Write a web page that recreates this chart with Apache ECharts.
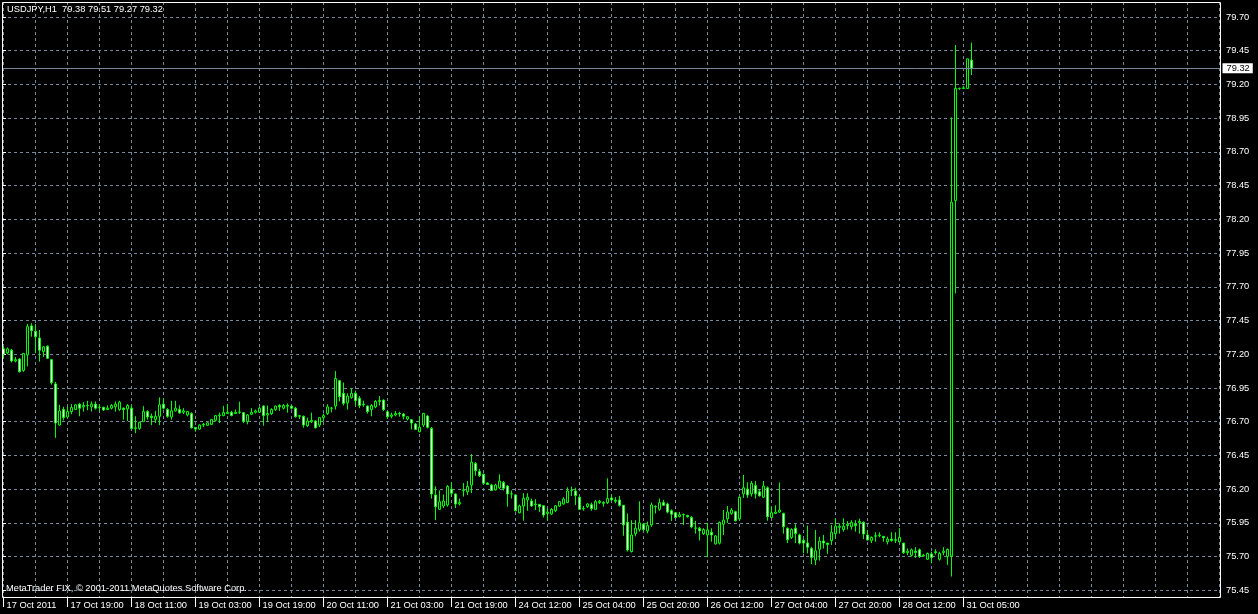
<!DOCTYPE html>
<html>
<head>
<meta charset="utf-8">
<title>USDJPY,H1</title>
<script src="https://cdn.jsdelivr.net/npm/echarts/dist/echarts.min.js"></script>
<style>
  html, body { margin: 0; padding: 0; background: #000; }
  #chart { width: 1258px; height: 614px; }
</style>
</head>
<body>
<div id="chart"></div>
<script>
const symbol = 'USDJPY,H1'
const copyright = 'MetaTrader FIX, \u00a9 2001-2011 MetaQuotes Software Corp.'

// hourly bars from 17 Oct 2011 03:00, [open, close, low, high]
const bars = [
  [77.24, 77.20, 77.17, 77.26], [77.21, 77.24, 77.20, 77.25], [77.23, 77.15, 77.14, 77.24], [77.15, 77.16, 77.14, 77.18],
  [77.165, 77.07, 77.065, 77.17], [77.08, 77.205, 77.07, 77.21], [77.195, 77.405, 77.11, 77.425], [77.41, 77.375, 77.33, 77.43],
  [77.37, 77.33, 77.21, 77.425], [77.32, 77.23, 77.145, 77.38], [77.22, 77.255, 77.18, 77.26], [77.26, 77.17, 77.165, 77.265],
  [77.16, 76.99, 76.975, 77.165], [76.98, 76.69, 76.58, 76.995], [76.675, 76.78, 76.67, 76.825], [76.79, 76.73, 76.71, 76.81],
  [76.735, 76.775, 76.73, 76.81], [76.775, 76.805, 76.755, 76.83], [76.79, 76.825, 76.79, 76.83], [76.83, 76.80, 76.74, 76.84],
  [76.81, 76.82, 76.775, 76.845], [76.82, 76.82, 76.785, 76.855], [76.81, 76.83, 76.775, 76.85], [76.83, 76.80, 76.79, 76.85],
  [76.805, 76.807, 76.775, 76.83], [76.807, 76.787, 76.78, 76.81], [76.79, 76.80, 76.79, 76.82], [76.80, 76.82, 76.79, 76.83],
  [76.81, 76.83, 76.775, 76.85], [76.79, 76.845, 76.78, 76.855], [76.80, 76.79, 76.715, 76.805], [76.795, 76.82, 76.705, 76.83],
  [76.80, 76.65, 76.64, 76.825], [76.65, 76.655, 76.615, 76.74], [76.65, 76.695, 76.64, 76.70], [76.70, 76.775, 76.70, 76.815],
  [76.775, 76.735, 76.715, 76.785], [76.74, 76.73, 76.675, 76.76], [76.715, 76.74, 76.69, 76.78], [76.74, 76.825, 76.675, 76.88],
  [76.83, 76.80, 76.79, 76.875], [76.79, 76.74, 76.73, 76.80], [76.735, 76.78, 76.715, 76.855], [76.78, 76.80, 76.775, 76.855],
  [76.79, 76.765, 76.76, 76.82], [76.77, 76.78, 76.757, 76.80], [76.75, 76.775, 76.74, 76.78], [76.76, 76.655, 76.65, 76.77],
  [76.657, 76.645, 76.626, 76.66], [76.645, 76.675, 76.64, 76.68], [76.675, 76.68, 76.66, 76.69], [76.673, 76.692, 76.67, 76.695],
  [76.68, 76.717, 76.68, 76.72], [76.71, 76.745, 76.70, 76.75], [76.745, 76.75, 76.69, 76.767], [76.745, 76.767, 76.74, 76.817],
  [76.76, 76.77, 76.76, 76.83], [76.77, 76.745, 76.74, 76.78], [76.76, 76.77, 76.757, 76.79], [76.77, 76.772, 76.757, 76.848],
  [76.767, 76.705, 76.69, 76.77], [76.70, 76.75, 76.68, 76.757], [76.755, 76.77, 76.75, 76.80], [76.77, 76.78, 76.76, 76.79],
  [76.77, 76.80, 76.765, 76.81], [76.816, 76.745, 76.67, 76.82], [76.75, 76.76, 76.70, 76.82], [76.76, 76.79, 76.75, 76.80],
  [76.79, 76.815, 76.78, 76.82], [76.82, 76.81, 76.78, 76.83], [76.80, 76.82, 76.79, 76.83], [76.82, 76.815, 76.767, 76.836],
  [76.815, 76.80, 76.79, 76.82], [76.80, 76.737, 76.73, 76.81], [76.74, 76.745, 76.72, 76.75], [76.74, 76.675, 76.655, 76.745],
  [76.67, 76.705, 76.66, 76.73], [76.70, 76.71, 76.69, 76.766], [76.705, 76.655, 76.65, 76.71], [76.675, 76.73, 76.66, 76.73],
  [76.73, 76.745, 76.70, 76.76], [76.76, 76.81, 76.75, 76.83], [76.80, 76.80, 76.77, 76.81], [76.816, 77.02, 76.79, 77.075],
  [77.004, 76.885, 76.85, 77.01], [76.91, 76.836, 76.82, 76.99], [76.84, 76.89, 76.79, 76.91], [76.88, 76.91, 76.87, 76.95],
  [76.91, 76.856, 76.82, 76.93], [76.873, 76.82, 76.80, 76.89], [76.83, 76.826, 76.81, 76.856], [76.816, 76.775, 76.76, 76.82],
  [76.79, 76.82, 76.74, 76.83], [76.81, 76.85, 76.80, 76.86], [76.85, 76.857, 76.82, 76.89], [76.86, 76.79, 76.78, 76.865],
  [76.774, 76.737, 76.72, 76.78], [76.74, 76.75, 76.725, 76.767], [76.75, 76.76, 76.74, 76.78], [76.76, 76.757, 76.737, 76.774],
  [76.757, 76.74, 76.717, 76.762], [76.72, 76.737, 76.71, 76.74], [76.715, 76.69, 76.643, 76.72], [76.683, 76.643, 76.64, 76.69],
  [76.626, 76.658, 76.62, 76.742], [76.675, 76.762, 76.66, 76.765], [76.742, 76.658, 76.65, 76.75], [76.65, 76.164, 76.13, 76.66],
  [76.157, 76.07, 75.97, 76.22], [76.05, 76.107, 76.05, 76.19], [76.075, 76.112, 76.06, 76.16], [76.083, 76.22, 76.07, 76.23],
  [76.20, 76.17, 76.145, 76.25], [76.164, 76.09, 76.06, 76.17], [76.09, 76.10, 76.08, 76.13], [76.19, 76.195, 76.145, 76.245],
  [76.18, 76.22, 76.157, 76.26], [76.23, 76.40, 76.17, 76.46], [76.39, 76.337, 76.30, 76.40], [76.33, 76.30, 76.29, 76.35],
  [76.31, 76.243, 76.235, 76.315], [76.245, 76.235, 76.23, 76.25], [76.23, 76.19, 76.185, 76.24], [76.195, 76.23, 76.19, 76.24],
  [76.21, 76.26, 76.20, 76.31], [76.25, 76.206, 76.19, 76.26], [76.223, 76.164, 76.07, 76.23], [76.164, 76.165, 76.13, 76.19],
  [76.157, 76.04, 76.035, 76.16], [76.025, 76.075, 76.02, 76.085], [76.075, 76.132, 75.966, 76.17], [76.12, 76.14, 76.04, 76.17],
  [76.112, 76.075, 76.07, 76.13], [76.085, 76.09, 76.045, 76.125], [76.087, 76.07, 76.03, 76.09], [76.077, 76.008, 75.99, 76.08],
  [76.02, 76.03, 75.966, 76.058], [76.016, 76.05, 76.01, 76.06], [76.04, 76.077, 76.03, 76.08], [76.075, 76.107, 76.07, 76.11],
  [76.09, 76.127, 76.085, 76.14], [76.10, 76.186, 76.10, 76.213], [76.19, 76.19, 76.15, 76.218], [76.186, 76.152, 76.083, 76.21],
  [76.14, 76.05, 76.045, 76.15], [76.055, 76.056, 76.04, 76.075], [76.07, 76.09, 76.06, 76.095], [76.085, 76.055, 76.04, 76.10],
  [76.05, 76.107, 76.05, 76.12], [76.10, 76.11, 76.09, 76.12], [76.10, 76.095, 76.07, 76.11], [76.10, 76.13, 76.09, 76.28],
  [76.135, 76.12, 76.11, 76.16], [76.117, 76.11, 76.095, 76.14], [76.12, 76.08, 76.07, 76.15], [76.08, 75.935, 75.855, 76.082],
  [75.954, 75.749, 75.737, 76.02], [75.737, 75.86, 75.73, 75.97], [75.87, 75.91, 75.85, 75.97], [75.90, 75.95, 75.885, 76.11],
  [75.94, 75.90, 75.89, 75.95], [75.89, 75.93, 75.872, 75.96], [75.935, 76.083, 75.92, 76.10], [76.07, 76.072, 76.02, 76.08],
  [76.05, 76.10, 76.04, 76.13], [76.10, 76.08, 76.075, 76.12], [76.09, 76.03, 76.02, 76.10], [76.04, 76.014, 75.964, 76.05],
  [76.025, 75.99, 75.985, 76.03], [75.996, 76.01, 75.99, 76.03], [76.01, 76.012, 75.935, 76.02], [76.005, 75.995, 75.99, 76.01],
  [75.99, 75.92, 75.91, 76.00], [75.91, 75.912, 75.87, 75.965], [75.91, 75.89, 75.82, 75.92], [75.87, 75.90, 75.86, 75.91],
  [75.86, 75.897, 75.695, 75.95], [75.88, 75.86, 75.81, 75.91], [75.794, 75.853, 75.79, 75.86], [75.80, 75.954, 75.79, 75.96],
  [75.94, 75.97, 75.86, 76.045], [75.98, 76.03, 75.95, 76.075], [76.02, 76.045, 76.01, 76.06], [76.033, 75.966, 75.96, 76.04],
  [75.98, 76.14, 75.97, 76.145], [76.165, 76.21, 76.135, 76.305], [76.20, 76.157, 76.135, 76.25], [76.165, 76.243, 76.145, 76.26],
  [76.226, 76.165, 76.13, 76.26], [76.18, 76.15, 76.145, 76.20], [76.14, 76.223, 76.135, 76.26], [76.21, 75.996, 75.966, 76.22],
  [75.99, 76.025, 75.985, 76.07], [76.02, 76.03, 76.015, 76.08], [76.03, 76.045, 76.025, 76.25], [76.02, 75.922, 75.87, 76.025],
  [75.91, 75.825, 75.80, 75.917], [75.842, 75.90, 75.83, 75.91], [75.91, 75.87, 75.80, 75.94], [75.86, 75.80, 75.79, 75.87],
  [75.82, 75.80, 75.724, 75.835], [75.80, 75.77, 75.724, 75.93], [75.76, 75.694, 75.645, 75.773], [75.675, 75.743, 75.637, 75.897],
  [75.754, 75.815, 75.67, 75.847], [75.815, 75.80, 75.76, 75.86], [75.80, 75.79, 75.72, 75.80], [75.818, 75.88, 75.786, 75.934],
  [75.87, 75.926, 75.835, 75.983], [75.917, 75.925, 75.87, 75.946], [75.90, 75.925, 75.885, 75.983], [75.93, 75.94, 75.90, 75.963],
  [75.922, 75.953, 75.90, 75.97], [75.94, 75.93, 75.885, 75.97], [75.95, 75.96, 75.87, 75.98], [75.954, 75.867, 75.83, 75.96],
  [75.86, 75.823, 75.82, 75.897], [75.82, 75.842, 75.80, 75.85], [75.85, 75.855, 75.81, 75.88], [75.855, 75.86, 75.843, 75.88],
  [75.85, 75.84, 75.81, 75.852], [75.81, 75.83, 75.79, 75.847], [75.83, 75.82, 75.81, 75.88], [75.82, 75.826, 75.80, 75.88],
  [75.81, 75.843, 75.80, 75.91], [75.80, 75.729, 75.72, 75.80], [75.73, 75.74, 75.71, 75.76], [75.71, 75.75, 75.70, 75.76],
  [75.74, 75.73, 75.69, 75.77], [75.75, 75.70, 75.69, 75.76], [75.705, 75.71, 75.70, 75.72], [75.68, 75.723, 75.675, 75.73],
  [75.72, 75.694, 75.65, 75.736], [75.735, 75.73, 75.715, 75.754], [75.68, 75.724, 75.67, 75.736], [75.73, 75.74, 75.71, 75.77],
  [75.70, 75.753, 75.638, 75.76], [75.705, 78.327, 75.552, 78.956], [78.339, 79.171, 77.65, 79.492], [79.17, 79.172, 79.16, 79.175],
  [79.17, 79.175, 79.165, 79.19], [79.17, 79.39, 79.168, 79.39], [79.38, 79.32, 79.27, 79.51]
]

// one label every 16 bars
const timeLabels = [
  '17 Oct 2011', '17 Oct 19:00', '18 Oct 11:00', '19 Oct 03:00', '19 Oct 19:00', '20 Oct 11:00',
  '21 Oct 03:00', '21 Oct 19:00', '24 Oct 12:00', '25 Oct 04:00', '25 Oct 20:00', '26 Oct 12:00',
  '27 Oct 04:00', '27 Oct 20:00', '28 Oct 12:00', '31 Oct 05:00'
]

const priceMin = 75.45
const priceMax = 79.70
const priceStep = 0.25
const lastPrice = 79.32

const chart = echarts.init(document.getElementById('chart'))

const font = 'Liberation Sans, Arial, sans-serif'
const fontSize = 9.3
const gridColor = '#778899'
const barColor = '#00ff00'
const labelEvery = 16
const gridEvery = 8
// bar slots on the time axis, the right part stays empty
const slots = Array.from({ length: 305 }, (_, i) => String(i))

const last = bars[bars.length - 1]
const fmt = v => v.toFixed(2)
const header = symbol + '  ' + [last[0], last[3], last[2], last[1]].map(fmt).join(' ')

// the candle grid is taller than the labelled price range
const pxPerUnit = (590.3 - 17) / (priceMax - priceMin)
const viewMax = priceMax + 15 / pxPerUnit
const viewMin = priceMin - 6.7 / pxPerUnit

const isLabelled = i => i % labelEvery === 0 && i < bars.length

chart.setOption({
  backgroundColor: '#000',
  animation: false,
  grid: [
    { left: 3.5, right: 38.5, top: 2, bottom: 17 },
    { left: 2, right: 38, top: 17, bottom: 23.7 }
  ],
  xAxis: [
    {
      type: 'category',
      gridIndex: 0,
      data: slots,
      boundaryGap: false,
      axisLine: { show: false },
      axisTick: {
        show: true,
        interval: isLabelled,
        length: 10,
        lineStyle: { color: '#fff' }
      },
      axisLabel: {
        interval: isLabelled,
        formatter: (v, i) => timeLabels[i / labelEvery] || '',
        color: '#fff',
        fontSize: fontSize,
        fontFamily: font,
        align: 'left',
        margin: 4,
        padding: [0, 0, 0, 3]
      },
      splitLine: {
        show: true,
        interval: i => i % gridEvery === 0,
        lineStyle: { color: gridColor, width: 1, type: [3, 3] }
      }
    },
    { type: 'value', gridIndex: 1, show: false }
  ],
  yAxis: [
    { type: 'value', gridIndex: 0, min: viewMin, max: viewMax, show: false },
    {
      type: 'value',
      gridIndex: 1,
      position: 'right',
      min: priceMin,
      max: priceMax,
      interval: priceStep,
      axisLine: { show: false },
      axisTick: { show: true, length: 4, lineStyle: { color: '#fff' } },
      axisLabel: {
        formatter: fmt,
        color: '#fff',
        fontSize: fontSize,
        fontFamily: font,
        margin: 6
      },
      splitLine: {
        show: true,
        lineStyle: { color: gridColor, width: 1, type: [3, 3] }
      }
    }
  ],
  series: [
    {
      type: 'candlestick',
      xAxisIndex: 0,
      yAxisIndex: 0,
      data: bars,
      barWidth: 2,
      itemStyle: {
        color: '#000',
        color0: '#fff',
        borderColor: barColor,
        borderColor0: barColor,
        borderColorDoji: barColor,
        borderWidth: 1
      },
      emphasis: { disabled: true },
      markLine: {
        silent: true,
        symbol: ['none', 'none'],
        animation: false,
        lineStyle: { color: gridColor, type: 'solid', width: 1 },
        label: {
          show: true,
          position: 'end',
          distance: 3,
          formatter: fmt(lastPrice),
          color: '#000',
          backgroundColor: '#fff',
          fontSize: fontSize,
          fontFamily: font,
          lineHeight: 9,
          padding: [1, 3, 0, 4]
        },
        emphasis: { disabled: true },
        data: [{ yAxis: lastPrice }]
      }
    }
  ],
  graphic: [
    {
      type: 'rect',
      silent: true,
      z: 100,
      shape: { x: 2.5, y: 2.5, width: 1218, height: 595 },
      style: { fill: 'none', stroke: '#fff', lineWidth: 1 }
    },
    {
      type: 'text',
      left: 7,
      top: 5,
      z: 101,
      style: { text: header, fill: '#fff', fontSize: fontSize, fontFamily: font }
    },
    {
      type: 'text',
      left: 6,
      top: 584,
      z: 101,
      style: { text: copyright, fill: '#fff', fontSize: fontSize, fontFamily: font }
    }
  ]
})
</script>
</body>
</html>
